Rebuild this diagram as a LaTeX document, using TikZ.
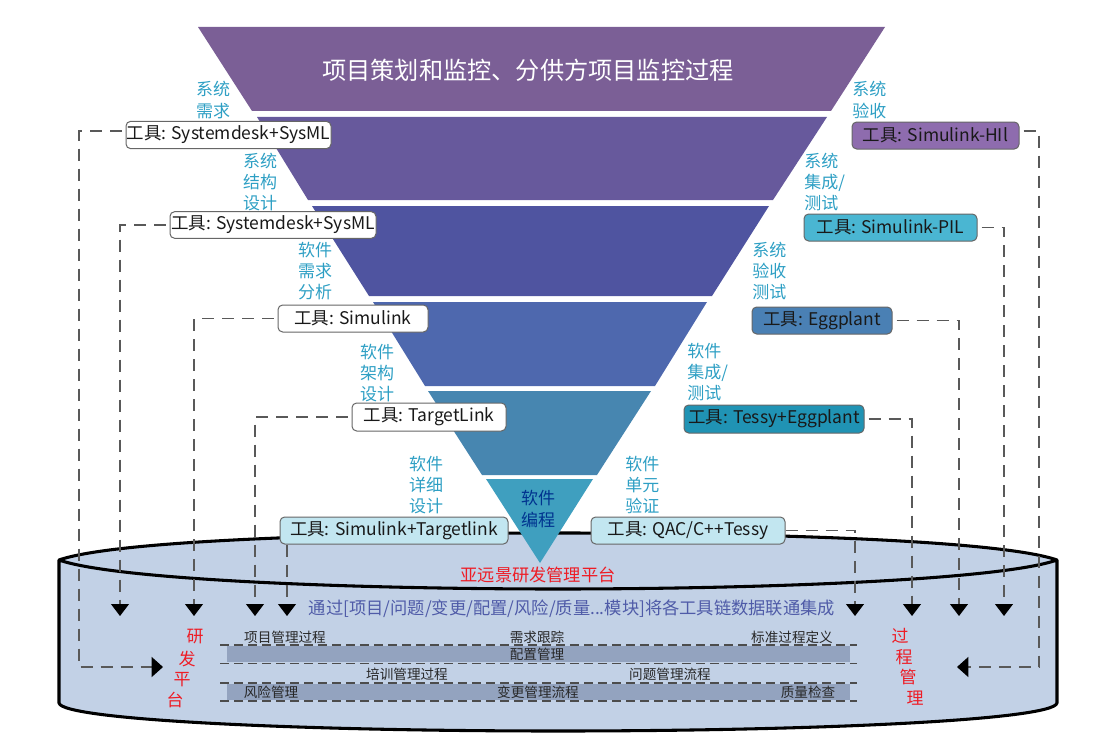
\documentclass[tikz,border=0pt]{standalone}
\usepackage{fontspec}
\setmainfont{Noto Sans CJK SC}
\usetikzlibrary{arrows.meta,calc}
\definecolor{bandA}{HTML}{7B5F96}
\definecolor{bandB}{HTML}{67599C}
\definecolor{bandC}{HTML}{4F54A0}
\definecolor{bandD}{HTML}{4E68AE}
\definecolor{bandE}{HTML}{4786B0}
\definecolor{bandF}{HTML}{3F9FBF}
\definecolor{cylfill}{HTML}{C2D1E6}
\definecolor{barfill}{HTML}{93A3BF}
\definecolor{stagecol}{HTML}{2E9FC4}
\definecolor{linkcol}{HTML}{4F5BA8}
\definecolor{boxlight}{HTML}{C2E6F0}
\definecolor{boxpurple}{HTML}{8E6CAE}
\definecolor{boxcyan}{HTML}{4AB6D2}
\definecolor{boxblue}{HTML}{4A80B4}
\definecolor{boxteal}{HTML}{2093B4}
\definecolor{redtxt}{HTML}{EE1C25}
\tikzset{
  toolbox/.style={draw=black!60,line width=0.75pt,rounded corners=3.5pt,inner sep=0pt,
    font=\fontsize{13.1}{16}\selectfont,text=black!90},
  stage/.style={inner sep=0pt,align=center,text=stagecol,font=\fontsize{12.75}{15.9}\selectfont},
  redlabel/.style={inner sep=0pt,text=redtxt,font=\fontsize{12.75}{15}\selectfont},
  proc/.style={inner sep=0pt,text=black!85,font=\fontsize{10.2}{12}\selectfont},
  link/.style={draw=black!65,line width=0.8pt,dash pattern=on 9pt off 6pt,shorten <=3pt,
    -{Triangle[width=13.5pt,length=9pt,fill=black,color=black]}},
  sidelink/.style={link,-{Triangle[width=15pt,length=8.5pt,fill=black,color=black]}},
  guide/.style={draw=black!70,line width=0.8pt,dash pattern=on 7pt off 3.5pt},
}
\begin{document}
\begin{tikzpicture}[x=0.75pt,y=-0.75pt]
\useasboundingbox (0,0) rectangle (1114,742);
% cylinder
\fill[cylfill] (59,560) -- (59,703) .. controls (62,720) and (300,731) .. (558,731)
   .. controls (816,731) and (1054,720) .. (1057,703) -- (1057,560)
   .. controls (1000,540) and (760,533) .. (558,533)
   .. controls (356,533) and (116,540) .. (59,560) -- cycle;
\draw[line width=2.3pt,line join=round] (59,560) -- (59,703) .. controls (62,720) and (300,731) .. (558,731)
   .. controls (816,731) and (1054,720) .. (1057,703) -- (1057,560)
   .. controls (1000,540) and (760,533) .. (558,533)
   .. controls (356,533) and (116,540) .. (59,560)
   .. controls (116,580) and (356,589) .. (558,589)
   .. controls (760,589) and (1000,580) .. (1057,560);
% funnel
\fill[bandA] (198,27) -- (885,27) -- (831,111) -- (252,111) -- cycle;
\fill[bandB] (257,117) -- (827,117) -- (773,200) -- (308,200) -- cycle;
\fill[bandC] (312,206) -- (769,206) -- (712,296) -- (369,296) -- cycle;
\fill[bandD] (373,302) -- (707,302) -- (655,386) -- (425,386) -- cycle;
\fill[bandE] (428,391) -- (651,391) -- (597,475) -- (482,475) -- cycle;
\fill[bandF] (486,479) -- (593,479) -- (540,563) -- cycle;
\node[inner sep=0pt,text=white,font=\fontsize{18.15}{20}\selectfont] (title) at (528,70) {项目策划和监控、分供方项目监控过程};
\node[inner sep=0pt,align=center,text=blue!45!black!80!cyan,font=\fontsize{12.75}{15.9}\selectfont] (coding) at (538,509) {软件\\编程};
% stage labels
\node[stage] (s1) at (213,100) {系统\\需求};
\node[stage] (s2) at (260,182) {系统\\结构\\设计};
\node[stage] (s3) at (315,271) {软件\\需求\\分析};
\node[stage] (s4) at (377,373) {软件\\架构\\设计};
\node[stage] (s5) at (426,485) {软件\\详细\\设计};
\node[stage,align=left,anchor=west] (r1) at (852,100) {系统\\验收};
\node[stage,align=left,anchor=west] (r2) at (804,182) {系统\\集成/\\测试};
\node[stage,align=left,anchor=west] (r3) at (752,271) {系统\\验收\\测试};
\node[stage,align=left,anchor=west] (r4) at (687,372) {软件\\集成/\\测试};
\node[stage,align=left,anchor=west] (r5) at (625,485) {软件\\单元\\验证};
% tool boxes
\node[toolbox,fill=white,minimum width=153.75pt,minimum height=20.5pt] (t1) at (228.5,135) {工具: Systemdesk+SysML};
\node[toolbox,fill=white,minimum width=154.5pt,minimum height=20pt] (t2) at (273,225) {工具: Systemdesk+SysML};
\node[toolbox,fill=white,minimum width=112.5pt,minimum height=20.25pt] (t3) at (353,318.5) {工具: Simulink};
\node[toolbox,fill=white,minimum width=115.5pt,minimum height=21pt] (t4) at (429,417) {工具: TargetLink};
\node[toolbox,fill=boxlight,minimum width=171pt,minimum height=20.25pt] (t5) at (394,530.5) {工具: Simulink+Targetlink};
\node[toolbox,fill=boxpurple,minimum width=125.25pt,minimum height=20.25pt] (u1) at (935.5,135.5) {工具: Simulink-HIl};
\node[toolbox,fill=boxcyan,minimum width=129.75pt,minimum height=20.25pt] (u2) at (890.5,227.5) {工具: Simulink-PIL};
\node[toolbox,fill=boxblue,minimum width=105pt,minimum height=20.25pt] (u3) at (822,320.5) {工具: Eggplant};
\node[toolbox,fill=boxteal,minimum width=135pt,minimum height=21pt] (u4) at (774,419) {工具: Tessy+Eggplant};
\node[toolbox,fill=boxlight,minimum width=145.5pt,minimum height=20.25pt] (u5) at (688,530.5) {工具: QAC/C++Tessy};
% platform text
\node[inner sep=0pt,text=redtxt,font=\fontsize{12.9}{15}\selectfont] (plat) at (538,575) {亚远景研发管理平台};
\node[inner sep=0pt,text=linkcol,font=\fontsize{12.95}{15}\selectfont] (via) at (572,609) {通过[项目/问题/变更/配置/风险/质量...模块]将各工具链数据联通集成};
% arrow ends
\coordinate (a1) at (163,667);
\coordinate (a2) at (120,616);
\coordinate (a3) at (194,616);
\coordinate (a4) at (255,616);
\coordinate (a5) at (287,616);
\coordinate (b5) at (855,616);
\coordinate (b4) at (912,616);
\coordinate (b3) at (959,616);
\coordinate (b2) at (1004,616);
\coordinate (b1) at (957,667);
\coordinate (k1) at (79,131);
\coordinate (k1b) at (79,667);
\coordinate (m1) at (1039,131);
\coordinate (m1b) at (1039,667);
\draw[sidelink] (t1.west |- k1) -- (k1) -- (k1b) -- (a1);
\draw[link] (t2.west) -| (a2);
\draw[link] (t3.west) -| (a3);
\draw[link] (t4.west) -| (a4);
\draw[link,shorten <=0pt] (t5.south -| a5) -- (a5);
\draw[link,shorten <=0pt] (u5.east) -| (b5);
\draw[link] (u4.east) -| (b4);
\draw[link] (u3.east) -| (b3);
\draw[link] (u2.east) -| (b2);
\draw[sidelink] (u1.east |- m1) -- (m1) -- (m1b) -- (b1);
% process bars
\fill[barfill] (227,646) rectangle (850,662);
\fill[barfill] (227,684) rectangle (850,700);
\draw[guide] (220,645) -- (857,645);
\draw[guide] (220,663.5) -- (857,663.5);
\draw[guide] (220,683) -- (857,683);
\draw[guide] (220,701) -- (857,701);
\node[proc] (p1) at (285,637) {项目管理过程};
\node[proc] (p2) at (537,637) {需求跟踪};
\node[proc] (p3) at (792,637) {标准过程定义};
\node[proc] (p4) at (537,654.5) {配置管理};
\node[proc] (p5) at (407,674) {培训管理过程};
\node[proc] (p6) at (670,674) {问题管理流程};
\node[proc] (p7) at (271,692) {风险管理};
\node[proc] (p8) at (538,692) {变更管理流程};
\node[proc] (p9) at (808,692) {质量检查};
% side labels
\node[redlabel] (x1) at (195,637) {研};
\node[redlabel] (x2) at (187,659) {发};
\node[redlabel] (x3) at (182,680) {平};
\node[redlabel] (x4) at (175,700) {台};
\node[redlabel] (y1) at (900,636) {过};
\node[redlabel] (y2) at (904,657) {程};
\node[redlabel] (y3) at (908,677) {管};
\node[redlabel] (y4) at (915,698) {理};
\end{tikzpicture}
\end{document}
